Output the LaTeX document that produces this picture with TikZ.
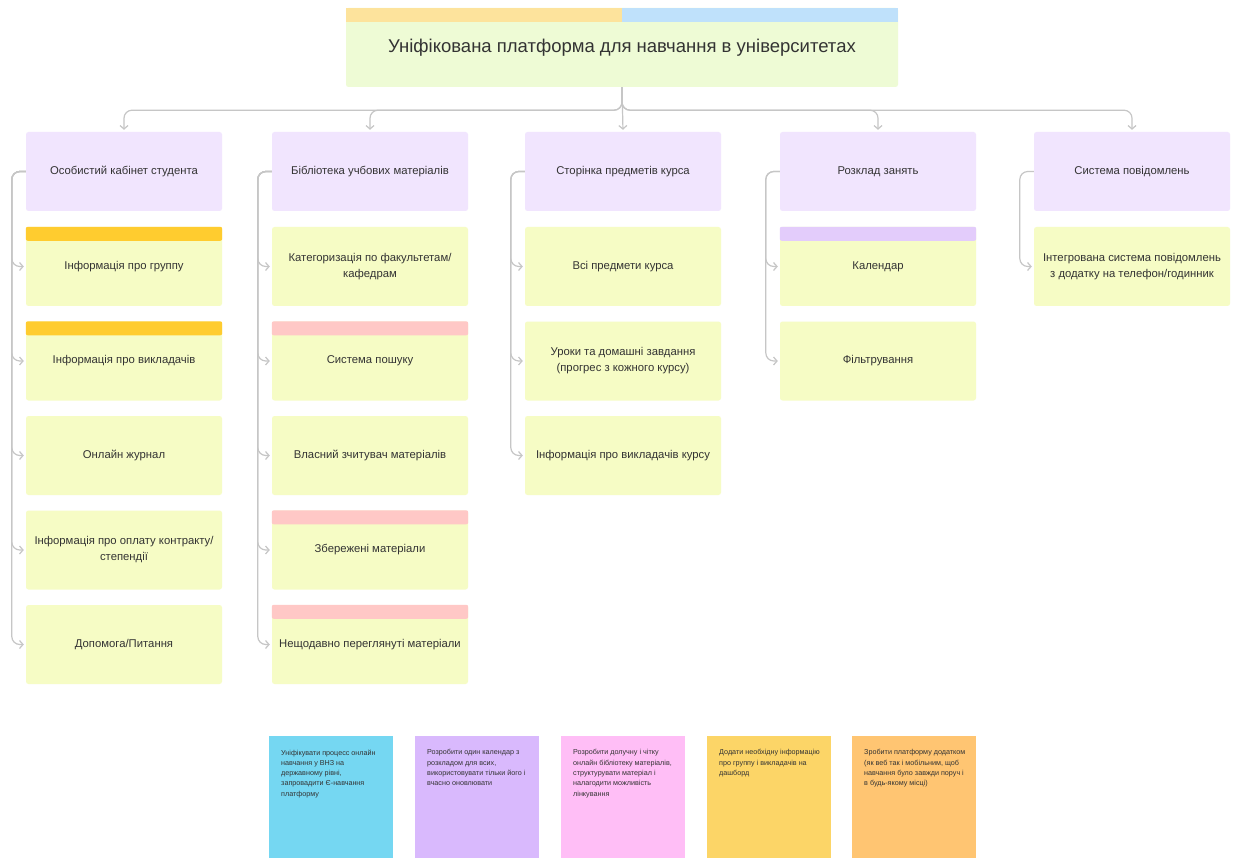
\documentclass[tikz,border=0pt]{standalone}
\usepackage{fontspec}
\setmainfont{Liberation Sans}
\usetikzlibrary{arrows.meta}

\definecolor{textcol}{HTML}{333333}
\definecolor{titlegreen}{HTML}{EEFBD5}
\definecolor{titlestripA}{HTML}{FDE39C}
\definecolor{titlestripB}{HTML}{BFE1FB}
\definecolor{headlav}{HTML}{F1E5FE}
\definecolor{itembody}{HTML}{F6FCC5}
\definecolor{stripgold}{HTML}{FFCC2F}
\definecolor{strippink}{HTML}{FFC8C6}
\definecolor{striplav}{HTML}{E3CCFB}
\definecolor{conncol}{HTML}{C6C6C6}
\definecolor{notecyan}{HTML}{75D7F2}
\definecolor{notelilac}{HTML}{D9B9FD}
\definecolor{notepink}{HTML}{FFBEF6}
\definecolor{noteyellow}{HTML}{FCD567}
\definecolor{noteorange}{HTML}{FFC572}

\tikzset{
  box/.style={rectangle, rounded corners=2.5pt, minimum width=196pt, minimum height=79pt,
    inner sep=0pt, align=center, text=textcol, font=\fontsize{11.3}{16}\selectfont},
  headbox/.style={box, fill=headlav},
  itembox/.style={box, fill=itembody},
  conn/.style={draw=conncol, line width=1.2pt, rounded corners=8pt,
    -{Straight Barb[length=3.5pt,width=8pt]}, shorten >=2pt},
  sticky/.style={rectangle, minimum width=124pt, minimum height=122pt, inner sep=0pt,
    anchor=north west},
  stickytext/.style={anchor=north west, align=left, inner sep=0pt, text=textcol,
    font=\fontsize{7.2}{10.3}\selectfont},
}

% coloured band along the top edge of a box
\newcommand\topband[2]{\fill[#2, rounded corners=2pt] (#1.north west) rectangle ([yshift=-14pt]#1.north east);}

\begin{document}
\begin{tikzpicture}[x=1pt, y=-1pt]
\fill[white] (0,0) rectangle (1233,858);
\useasboundingbox (0,0) rectangle (1233,858);

% title
\node[box, minimum width=552pt, fill=titlegreen, font=\fontsize{18.5}{22}\selectfont] (title) at (622,47.5)
  {\raisebox{-2pt}{Уніфікована платформа для навчання в університетах}};
\fill[titlestripA] (title.north west) rectangle ([yshift=-14pt]title.north);
\fill[titlestripB] (title.north) rectangle ([yshift=-14pt]title.north east);

% section headers
\node[headbox] (h1) at (124,171.5) {Особистий кабінет студента};
\node[headbox] (h2) at (370,171.5) {Бібліотека учбових матеріалів};
\node[headbox] (h3) at (623,171.5) {Сторінка предметів курса};
\node[headbox] (h4) at (878,171.5) {Розклад занять};
\node[headbox] (h5) at (1132,171.5) {Система повідомлень};

% column 1
\node[itembox] (c11) at (124,266.5) {Інформація про группу};
\node[itembox] (c12) at (124,361) {Інформація про викладачів};
\node[itembox] (c13) at (124,455.5) {Онлайн журнал};
\node[itembox] (c14) at (124,550) {Інформація про оплату контракту/\\степендії};
\node[itembox] (c15) at (124,644.5) {Допомога/Питання};
\topband{c11}{stripgold}
\topband{c12}{stripgold}

% column 2
\node[itembox] (c21) at (370,266.5) {Категоризація по факультетам/\\кафедрам};
\node[itembox] (c22) at (370,361) {Система пошуку};
\node[itembox] (c23) at (370,455.5) {Власний зчитувач матеріалів};
\node[itembox] (c24) at (370,550) {Збережені матеріали};
\node[itembox] (c25) at (370,644.5) {Нещодавно переглянуті матеріали};
\topband{c22}{strippink}
\topband{c24}{strippink}
\topband{c25}{strippink}

% column 3
\node[itembox] (c31) at (623,266.5) {Всі предмети курса};
\node[itembox] (c32) at (623,361) {Уроки та домашні завдання\\(прогрес з кожного курсу)};
\node[itembox] (c33) at (623,455.5) {Інформація про викладачів курсу};

% column 4
\node[itembox] (c41) at (878,266.5) {Календар};
\node[itembox] (c42) at (878,361) {Фільтрування};
\topband{c41}{striplav}

% column 5
\node[itembox] (c51) at (1132,266.5) {Інтегрована система повідомлень\\з додатку на телефон/годинник};

% title to sections
\draw[conn] (title.south) -- (h3.north);
\foreach \h in {h1,h2,h4,h5}
  \draw[conn] (title.south) -- ++(0,23) -| (\h.north);

% sections to their items
\foreach \c in {c11,c12,c13,c14,c15}
  \draw[conn] (h1.west) -- ++(-14,0) |- (\c.west);
\foreach \c in {c21,c22,c23,c24,c25}
  \draw[conn] (h2.west) -- ++(-14,0) |- (\c.west);
\foreach \c in {c31,c32,c33}
  \draw[conn] (h3.west) -- ++(-14,0) |- (\c.west);
\foreach \c in {c41,c42}
  \draw[conn] (h4.west) -- ++(-14,0) |- (\c.west);
\draw[conn] (h5.west) -- ++(-14,0) |- (c51.west);

% sticky notes
\node[sticky, fill=notecyan] (s1) at (269,736) {};
\node[sticky, fill=notelilac] (s2) at (415,736) {};
\node[sticky, fill=notepink] (s3) at (561,736) {};
\node[sticky, fill=noteyellow] (s4) at (707,736) {};
\node[sticky, fill=noteorange] (s5) at (852,736) {};

\node[stickytext] (t1) at ([xshift=12pt,yshift=-13.5pt]s1.north west)
  {Уніфікувати процесс онлайн\\навчання у ВНЗ на\\державному рівні,\\запровадити Є-навчання\\платформу};
\node[stickytext] (t2) at ([xshift=12pt,yshift=-13.5pt]s2.north west)
  {Розробити один календар з\\розкладом для всих,\\використовувати тільки його і\\вчасно оновлювати};
\node[stickytext] (t3) at ([xshift=12pt,yshift=-13.5pt]s3.north west)
  {Розробити долучну і чітку\\онлайн бібліотеку матеріалів,\\структурувати матеріал і\\налагодити можливість\\лінкування};
\node[stickytext] (t4) at ([xshift=12pt,yshift=-13.5pt]s4.north west)
  {Додати необхідну інформацію\\про группу і викладачів на\\дашборд};
\node[stickytext] (t5) at ([xshift=12pt,yshift=-13.5pt]s5.north west)
  {Зробити платформу додатком\\(як веб так і мобільним, щоб\\навчання було завжди поруч і\\в будь-якому місці)};
\end{tikzpicture}
\end{document}
